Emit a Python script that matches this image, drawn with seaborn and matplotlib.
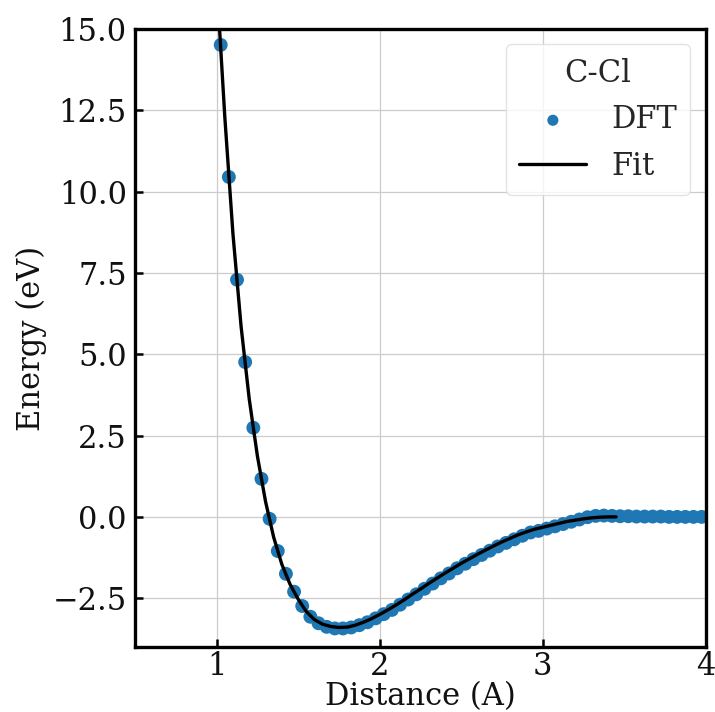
import numpy as np
import pandas as pd
import matplotlib
matplotlib.use("Agg")
import matplotlib.pyplot as plt
import seaborn as sns

# DFT points
dft_x = [1.025, 1.075, 1.125, 1.175, 1.225, 1.275, 1.325, 1.375, 1.425, 1.475,
         1.525, 1.575, 1.625, 1.675, 1.725, 1.775, 1.825, 1.875, 1.925, 1.975,
         2.025, 2.075, 2.125, 2.175, 2.225, 2.275, 2.325, 2.375, 2.425, 2.475,
         2.525, 2.575, 2.625, 2.675, 2.725, 2.775, 2.825, 2.875, 2.925, 2.975,
         3.025, 3.075, 3.125, 3.175, 3.225, 3.275, 3.325, 3.375, 3.425, 3.475,
         3.525, 3.575, 3.625, 3.675, 3.725, 3.775, 3.825, 3.875, 3.925, 3.975]
dft_e = [14.51, 10.45, 7.29, 4.76, 2.74, 1.17, -0.06, -1.05, -1.75, -2.30,
         -2.74, -3.07, -3.27, -3.38, -3.43, -3.43, -3.40, -3.33, -3.24, -3.12,
         -2.99, -2.86, -2.70, -2.54, -2.38, -2.21, -2.05, -1.89, -1.74, -1.58,
         -1.44, -1.30, -1.17, -1.04, -0.91, -0.80, -0.69, -0.58, -0.48, -0.43,
         -0.36, -0.29, -0.22, -0.15, -0.08, -0.01, 0.03, 0.04, 0.03, 0.02,
         0.02, 0.01, 0.01, 0.01, 0.01, 0.0, 0.0, 0.0, 0.0, 0.0]

# Fit curve
fit_x = [1.00, 1.05, 1.10, 1.15, 1.20, 1.25, 1.30, 1.35, 1.40, 1.45,
         1.50, 1.55, 1.60, 1.65, 1.70, 1.75, 1.80, 1.85, 1.90, 1.95,
         2.00, 2.05, 2.10, 2.15, 2.20, 2.25, 2.30, 2.35, 2.40, 2.45,
         2.50, 2.55, 2.60, 2.65, 2.70, 2.75, 2.80, 2.85, 2.90, 2.95,
         3.00, 3.05, 3.10, 3.15, 3.20, 3.25, 3.30, 3.35, 3.40, 3.45]
fit_e = [16.5, 12.3, 8.70, 5.85, 3.62, 1.87, 0.47, -0.63, -1.46, -2.07,
         -2.53, -2.91, -3.16, -3.30, -3.37, -3.40, -3.39, -3.33, -3.24, -3.13,
         -3.00, -2.86, -2.71, -2.55, -2.38, -2.22, -2.05, -1.89, -1.73, -1.58,
         -1.43, -1.29, -1.15, -1.02, -0.89, -0.77, -0.66, -0.55, -0.46, -0.38,
         -0.32, -0.26, -0.20, -0.14, -0.10, -0.06, -0.03, -0.01, 0.0, 0.0]

sns.set_style("whitegrid")
plt.rcParams['font.family'] = ['DejaVu Serif']
plt.rcParams['mathtext.fontset'] = 'dejavuserif'

FS = 22

fig = plt.figure(figsize=(7.15, 7.12), dpi=100)
ax = fig.add_axes([0.189, 0.0913, 0.798, 0.868])

df_dft = pd.DataFrame({"x": dft_x, "e": dft_e})
df_fit = pd.DataFrame({"x": fit_x, "e": fit_e})

sns.scatterplot(data=df_dft, x="x", y="e", ax=ax, color="#1f77b4", s=100,
                edgecolor="none", label="DFT", zorder=2)
sns.lineplot(data=df_fit, x="x", y="e", ax=ax, color="black", lw=2.4,
             label="Fit", zorder=3)

ax.set_xlim(0.5, 4.0)
ax.set_ylim(-4, 15)
ax.set_xticks([1, 2, 3, 4])
ax.set_yticks([-2.5, 0.0, 2.5, 5.0, 7.5, 10.0, 12.5, 15.0])
ax.set_yticklabels(["\u22122.5", "0.0", "2.5", "5.0", "7.5", "10.0", "12.5", "15.0"])
ax.set_xlabel("Distance (A)", fontsize=FS, labelpad=-1, color="#111111")
ax.set_ylabel("Energy (eV)", fontsize=FS, labelpad=4, color="#111111")
ax.grid(True, color="#cccccc", linewidth=0.9)
for sp in ax.spines.values():
    sp.set_color("black")
    sp.set_linewidth(2.4)
ax.tick_params(axis="both", direction="in", length=6, width=1.8, color="black",
               labelsize=FS, labelcolor="#111111", bottom=True, left=True)
ax.tick_params(axis="x", pad=3)
ax.tick_params(axis="y", pad=6)

leg = ax.legend(title="C-Cl", loc="upper right", fontsize=FS, title_fontsize=FS,
                frameon=True, framealpha=0.8, borderpad=0.45, handlelength=2.2,
                markerscale=0.8)
leg.get_frame().set_edgecolor("#dddddd")

fig.savefig("out.png", dpi=100)
